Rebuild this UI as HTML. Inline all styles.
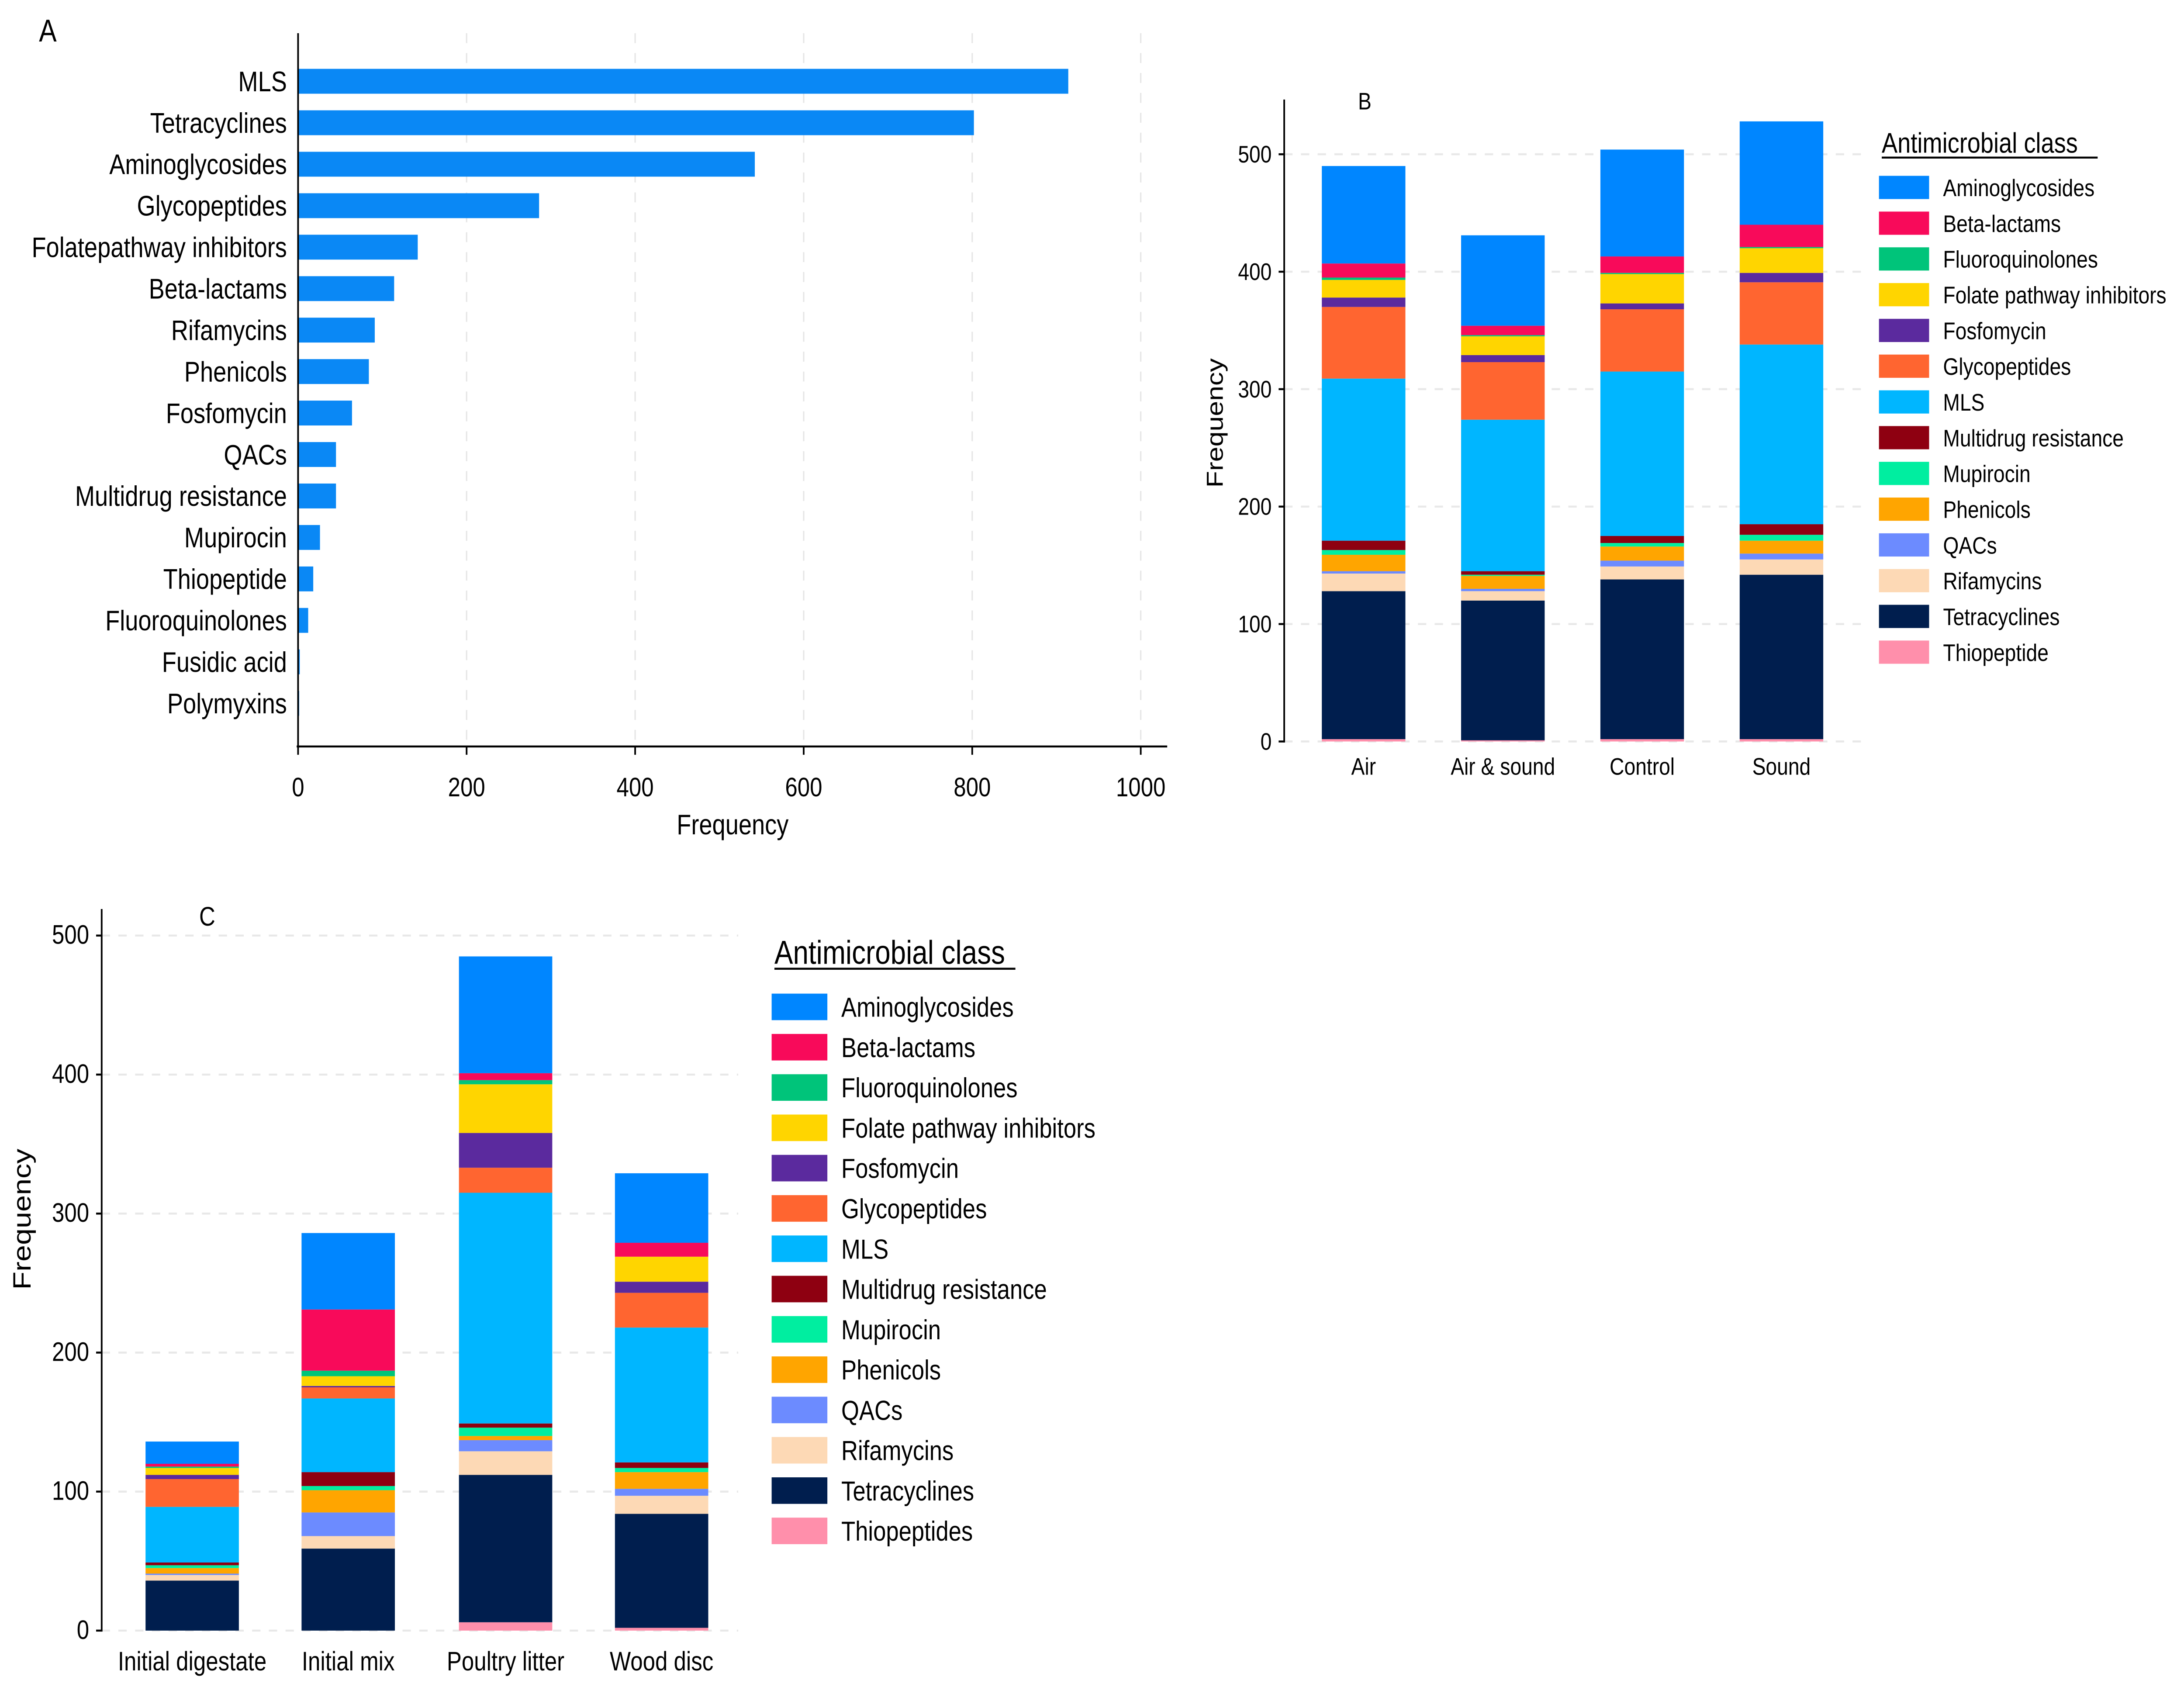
<!DOCTYPE html>
<html><head><meta charset="utf-8"><style>
html,body{margin:0;padding:0;background:#fff;width:100%;height:100%;overflow:hidden}
svg{display:block;width:100vw;height:100vh;font-family:"Liberation Sans",Arial,sans-serif}
</style></head>
<body>
<svg id="fig" viewBox="0 0 1568 1017" preserveAspectRatio="none" xmlns="http://www.w3.org/2000/svg">
<rect width="1568" height="1017" fill="#fff"/>
<g id="pA"></g>
<g id="pB"></g>
<g id="pC"></g>
</svg>
<script>
// Panel A data
const aCategories = ["MLS","Tetracyclines","Aminoglycosides","Glycopeptides","Folatepathway inhibitors","Beta-lactams","Rifamycins","Phenicols","Fosfomycin","QACs","Multidrug resistance","Mupirocin","Thiopeptide","Fluoroquinolones","Fusidic acid","Polymyxins"];
const aValues = [914,802,542,286,142,114,91,84,64,45,45,26,18,12,2,1];
const aTicks = [0,200,400,600,800,1000];

// Stacked classes (bottom to top)
const stackClasses = ["Thiopeptide","Tetracyclines","Rifamycins","QACs","Phenicols","Mupirocin","Multidrug resistance","MLS","Glycopeptides","Fosfomycin","Folate pathway inhibitors","Fluoroquinolones","Beta-lactams","Aminoglycosides"];
const legendB = ["Aminoglycosides","Beta-lactams","Fluoroquinolones","Folate pathway inhibitors","Fosfomycin","Glycopeptides","MLS","Multidrug resistance","Mupirocin","Phenicols","QACs","Rifamycins","Tetracyclines","Thiopeptide"];
const legendC = ["Aminoglycosides","Beta-lactams","Fluoroquinolones","Folate pathway inhibitors","Fosfomycin","Glycopeptides","MLS","Multidrug resistance","Mupirocin","Phenicols","QACs","Rifamycins","Tetracyclines","Thiopeptides"];

// Panel B data
const bCategories = ["Air","Air & sound","Control","Sound"];
const bAir      = [2,126,15,2,14,4,8,138,61,8,15,2,12,83];
const bAirSound = [1,119,8,2,11,1,3,129,49,6,16,1,8,77];
const bControl  = [2,136,11,5,12,3,6,140,53,5,25,1,14,91];
const bSound    = [2,140,13,5,11,5,9,153,53,8,21,1,19,88];
const bTicks = [0,100,200,300,400,500];

// Panel C data
const cCategories = ["Initial digestate","Initial mix","Poultry litter","Wood disc"];
const cDigestate = [0,36,4,1,4,2,2,40,20,3,5,1,2,16];
const cMix       = [0,59,9,17,16,3,10,53,8,1,7,4,44,55];
const cPoultry   = [6,106,17,8,3,6,3,166,18,25,35,3,5,84];
const cWood      = [2,82,13,5,12,3,4,97,25,8,18,0,10,50];
const cTicks = [0,100,200,300,400,500];

const colors = {"Aminoglycosides":"#0086FF","Beta-lactams":"#F80A5A","Fluoroquinolones":"#00C47A","Folate pathway inhibitors":"#FFD500","Fosfomycin":"#5B2A9E","Glycopeptides":"#FF6530","MLS":"#00B6FF","Multidrug resistance":"#8E0011","Mupirocin":"#00EEA0","Phenicols":"#FFA500","QACs":"#6C8BFF","Rifamycins":"#FDD9B5","Tetracyclines":"#001E4E","Thiopeptide":"#FF8FAB","Thiopeptides":"#FF8FAB"};

const NS="http://www.w3.org/2000/svg";
function mk(parent,tag,attrs,text){const e=document.createElementNS(NS,tag);for(const k in attrs)e.setAttribute(k,attrs[k]);if(text!==undefined)e.textContent=text;parent.appendChild(e);return e;}
function slug(s){return s.toLowerCase().replace(/[^a-z0-9]+/g,'-').replace(/^-|-$/g,'');}

// ---------- Panel A ----------
const pA=document.getElementById('pA');
const ax=v=>214+v*0.605;
const ay=i=>49+i*25;
let t=mk(pA,'text',{x:28,y:25,'font-size':19});t.textContent='A';


aTicks.forEach(v=>{if(v>0){let g=mk(pA,'line',{x1:ax(v),x2:ax(v),y1:20,y2:450,stroke:'#e6e6e6','stroke-dasharray':'6,6','stroke-width':1});

}});
aCategories.forEach((c,i)=>{
 let r=mk(pA,'rect',{x:214,y:ay(i)-7.5,width:Math.max(ax(aValues[i])-214,0.8),height:15,fill:'#0A88F5'});
 
 
 let l=mk(pA,'text',{x:206,y:ay(i)+6,'font-size':17,'text-anchor':'end'},c);
 
 
});
let axl=mk(pA,'line',{x1:214,x2:214,y1:20,y2:451,stroke:'#000','stroke-width':1.2});


let bxl=mk(pA,'line',{x1:213,x2:838,y1:450,y2:450,stroke:'#000','stroke-width':1.2});


aTicks.forEach(v=>{
 mk(pA,'line',{x1:ax(v),x2:ax(v),y1:450,y2:455,stroke:'#000','stroke-width':1.2});
 let tl=mk(pA,'text',{x:ax(v),y:480,'font-size':16,'text-anchor':'middle'},String(v));
 
 
});
let atit=mk(pA,'text',{x:526,y:503,'font-size':17,'text-anchor':'middle'},'Frequency');



// ---------- Stacked panel helper ----------
function stacked(g,opt){
 const y=v=>opt.y0-v*opt.k;
 opt.ticks.forEach(v=>{
  let gl=mk(g,'line',{x1:opt.axX,x2:opt.gridEnd,y1:y(v),y2:y(v),stroke:'#e8e8e8','stroke-dasharray':'6,6','stroke-width':1.2});
  
  
  mk(g,'line',{x1:opt.axX-4,x2:opt.axX,y1:y(v),y2:y(v),stroke:'#000','stroke-width':1.2});
  let tl=mk(g,'text',{x:opt.axX-9,y:y(v)+5,'font-size':opt.fs,'text-anchor':'end'},String(v));
  
  
 });
 opt.cats.forEach((c,i)=>{
  let cum=0;const cx=opt.cx[i];
  opt.series[i].forEach((v,j)=>{
   if(v>0){
    let r=mk(g,'rect',{x:cx-opt.w/2,y:y(cum+v),width:opt.w,height:v*opt.k,fill:colors[stackClasses[j]]});
    
    
   }
   cum+=v;
  });
  let xl=mk(g,'text',{x:cx,y:opt.labY,'font-size':opt.fs,'text-anchor':'middle'},c);
  
  
 });
 let yl=mk(g,'line',{x1:opt.axX,x2:opt.axX,y1:opt.axTop,y2:opt.y0+0.6,stroke:'#000','stroke-width':1.2});
 
 
 let yt=mk(g,'text',{x:0,y:0,'font-size':opt.fs+2,'text-anchor':'middle',transform:`translate(${opt.ytX},${opt.ytY}) rotate(-90)`},'Frequency');
 
 
 let pl=mk(g,'text',{x:opt.plX,y:opt.plY,'font-size':opt.fs},opt.pl);
 
 
 let lt=mk(g,'text',{x:opt.lgX+2,y:opt.lgTitleY,'font-size':opt.lgTitleFs},'Antimicrobial class');
 
 
 mk(g,'line',{x1:opt.lgX+2,x2:opt.lgX+2+opt.ulW,y1:opt.lgTitleY+3,y2:opt.lgTitleY+3,stroke:'#000','stroke-width':1.2});
 opt.legend.forEach((n,i)=>{
  const yy=opt.lgY0+i*opt.lgStep;
  let sw=mk(g,'rect',{x:opt.lgX,y:yy-opt.swH/2,width:opt.swW,height:opt.swH,fill:colors[n]});
  
  
  let lx=mk(g,'text',{x:opt.lgX+opt.swW+10,y:yy+opt.lgFs*0.36,'font-size':opt.lgFs},n);
  
  
 });
}

stacked(document.getElementById('pB'),{
 cats:bCategories,series:[bAir,bAirSound,bControl,bSound],cx:[979,1079,1179,1279],w:60,
 y0:447,k:0.708,ticks:bTicks,axX:922,axTop:60,gridEnd:1337,fs:14.5,labY:467,
 ytX:878,ytY:255,pl:'B',plX:975,plY:66,
 legend:legendB,lgX:1349,lgTitleY:92,lgTitleFs:17,ulW:155,lgY0:113,lgStep:21.55,swW:36,swH:14,lgFs:14.5
});
stacked(document.getElementById('pC'),{
 cats:cCategories,series:[cDigestate,cMix,cPoultry,cWood],cx:[138,250,363,475],w:67,
 y0:983,k:0.838,ticks:cTicks,axX:73,axTop:548,gridEnd:530,fs:16,labY:1007,
 ytX:22,ytY:735,pl:'C',plX:143,plY:558,
 legend:legendC,lgX:554,lgTitleY:581,lgTitleFs:20,ulW:173,lgY0:607,lgStep:24.3,swW:40,swH:16,lgFs:16.5
});
</script>
</body></html>
